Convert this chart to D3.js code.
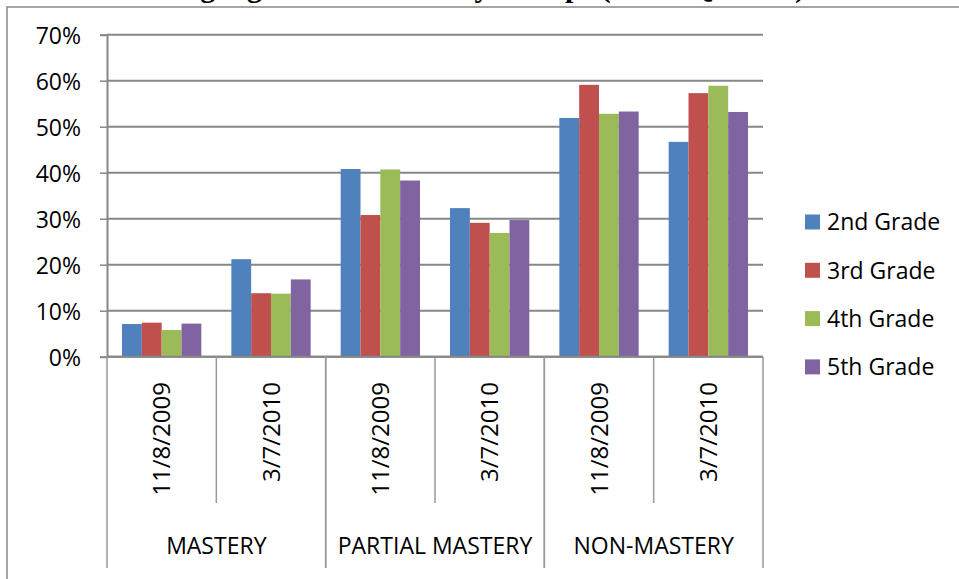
<!DOCTYPE html>
<html>
<head>
<meta charset="utf-8">
<script src="https://cdn.jsdelivr.net/npm/d3@7"></script>
<style>
  body { margin: 0; background: #fff; }
  text { font-family: "Open Sans", sans-serif; fill: #000; }
</style>
</head>
<body>
<div id="gr"></div>
<script>
// values (percent)
var groups = ["MASTERY", "PARTIAL MASTERY", "NON-MASTERY"];
var dates = ["11/8/2009", "3/7/2010"];
var series = ["2nd Grade", "3rd Grade", "4th Grade", "5th Grade"];
var grade2 = [7.1, 21.2, 40.8, 32.3, 51.9, 46.7];
var grade3 = [7.4, 13.8, 30.8, 29.1, 59.1, 57.3];
var grade4 = [5.8, 13.7, 40.7, 26.9, 52.8, 58.9];
var grade5 = [7.2, 16.8, 38.3, 29.7, 53.3, 53.2];
var yTicks = [0, 10, 20, 30, 40, 50, 60, 70];
var colors = ["#4F81BD", "#C0504D", "#9BBB59", "#8064A2"];

var width = 959, height = 579;
var plotLeft = 107, plotRight = 763, plotTop = 34.7, plotBottom = 356.7;

var keys = [];
groups.forEach(function (g) { dates.forEach(function (d) { keys.push(g + "|" + d); }); });
var values = [grade2, grade3, grade4, grade5];

var svg = d3.select("#gr").append("svg")
  .attr("width", width)
  .attr("height", height);

svg.append("rect").attr("width", width).attr("height", height).attr("fill", "#fff");

// title, mostly cut off by the top of the picture
svg.append("text")
  .attr("x", 41)
  .attr("y", -3)
  .style("font-family", "'Liberation Serif', serif")
  .style("font-weight", "bold")
  .style("font-size", "30px")
  .text("Student Language Arts Proficiency Groups (TPRI Quarter)");

// chart frame
svg.append("rect")
  .attr("x", 7).attr("y", 7)
  .attr("width", 1000).attr("height", 1000)
  .attr("fill", "#fff")
  .attr("stroke", "#888")
  .attr("stroke-width", 1.5);

var x = d3.scaleBand().domain(keys).range([plotLeft, plotRight]).padding(0);
var xi = d3.scaleBand().domain(series).range([0, x.bandwidth()])
  .paddingInner(0).paddingOuter(0.757);
var y = d3.scaleLinear().domain([0, 70]).range([plotBottom, plotTop]);

// gridlines
svg.append("g").selectAll("line")
  .data(yTicks)
  .enter().append("line")
  .attr("x1", plotLeft).attr("x2", plotRight)
  .attr("y1", function (d) { return y(d); })
  .attr("y2", function (d) { return y(d); })
  .attr("stroke", "#878787")
  .attr("stroke-width", 2);

// y axis
var yAxis = d3.axisLeft(y).tickValues(yTicks)
  .tickFormat(function (d) { return d + "%"; })
  .tickSize(7).tickPadding(19);
var ya = svg.append("g").attr("transform", "translate(" + plotLeft + ",0)").call(yAxis);
ya.select(".domain").attr("stroke", "#878787").attr("stroke-width", 2);
ya.selectAll(".tick line").attr("stroke", "#878787").attr("stroke-width", 1.5);
ya.selectAll(".tick text")
  .style("font-family", "'Open Sans', sans-serif")
  .style("font-size", "23px")
  .attr("dy", "0.4em")
  .attr("fill", "#000");

// bars
var bars = svg.append("g");
series.forEach(function (s, i) {
  bars.selectAll(".b" + i)
    .data(values[i])
    .enter().append("rect")
    .attr("class", "b" + i)
    .attr("x", function (d, j) { return x(keys[j]) + xi(s); })
    .attr("y", function (d) { return y(d); })
    .attr("width", xi.bandwidth())
    .attr("height", function (d) { return y(0) - y(d); })
    .attr("fill", colors[i]);
});

// x axis line
svg.append("line")
  .attr("x1", plotLeft).attr("x2", plotRight)
  .attr("y1", plotBottom).attr("y2", plotBottom)
  .attr("stroke", "#878787").attr("stroke-width", 2);

// date separators and labels
var sep = svg.append("g");
keys.forEach(function (k, j) {
  var x0 = x(k);
  if (j % 2 == 1) {
    sep.append("line")
      .attr("x1", x0).attr("x2", x0)
      .attr("y1", plotBottom).attr("y2", 503)
      .attr("stroke", "#999").attr("stroke-width", 1.5);
  }
  var cx = x0 + x.bandwidth() / 2;
  sep.append("text")
    .attr("transform", "translate(" + cx + ",382) rotate(-90)")
    .attr("text-anchor", "end")
    .attr("dy", "0.36em")
    .style("font-size", "24px")
    .text(k.split("|")[1]);
});

// group separators and labels
groups.forEach(function (g, i) {
  var x0 = x(g + "|" + dates[0]);
  var x1 = x(g + "|" + dates[1]) + x.bandwidth();
  [x0, x1].forEach(function (xx) {
    sep.append("line")
      .attr("x1", xx).attr("x2", xx)
      .attr("y1", plotBottom).attr("y2", 568)
      .attr("stroke", "#999").attr("stroke-width", 1.5);
  });
  sep.append("text")
    .attr("x", (x0 + x1) / 2)
    .attr("y", 554)
    .attr("text-anchor", "middle")
    .style("font-size", "23px")
    .text(g);
});

// legend
var legend = svg.append("g");
series.forEach(function (s, i) {
  var ly = 222 + i * 48.3;
  legend.append("rect")
    .attr("x", 805).attr("y", ly - 7.5)
    .attr("width", 15).attr("height", 15)
    .attr("fill", colors[i]);
  legend.append("text")
    .attr("x", 827).attr("y", ly)
    .attr("dy", "0.36em")
    .style("font-size", "23px")
    .text(s);
});
</script>
</body>
</html>
